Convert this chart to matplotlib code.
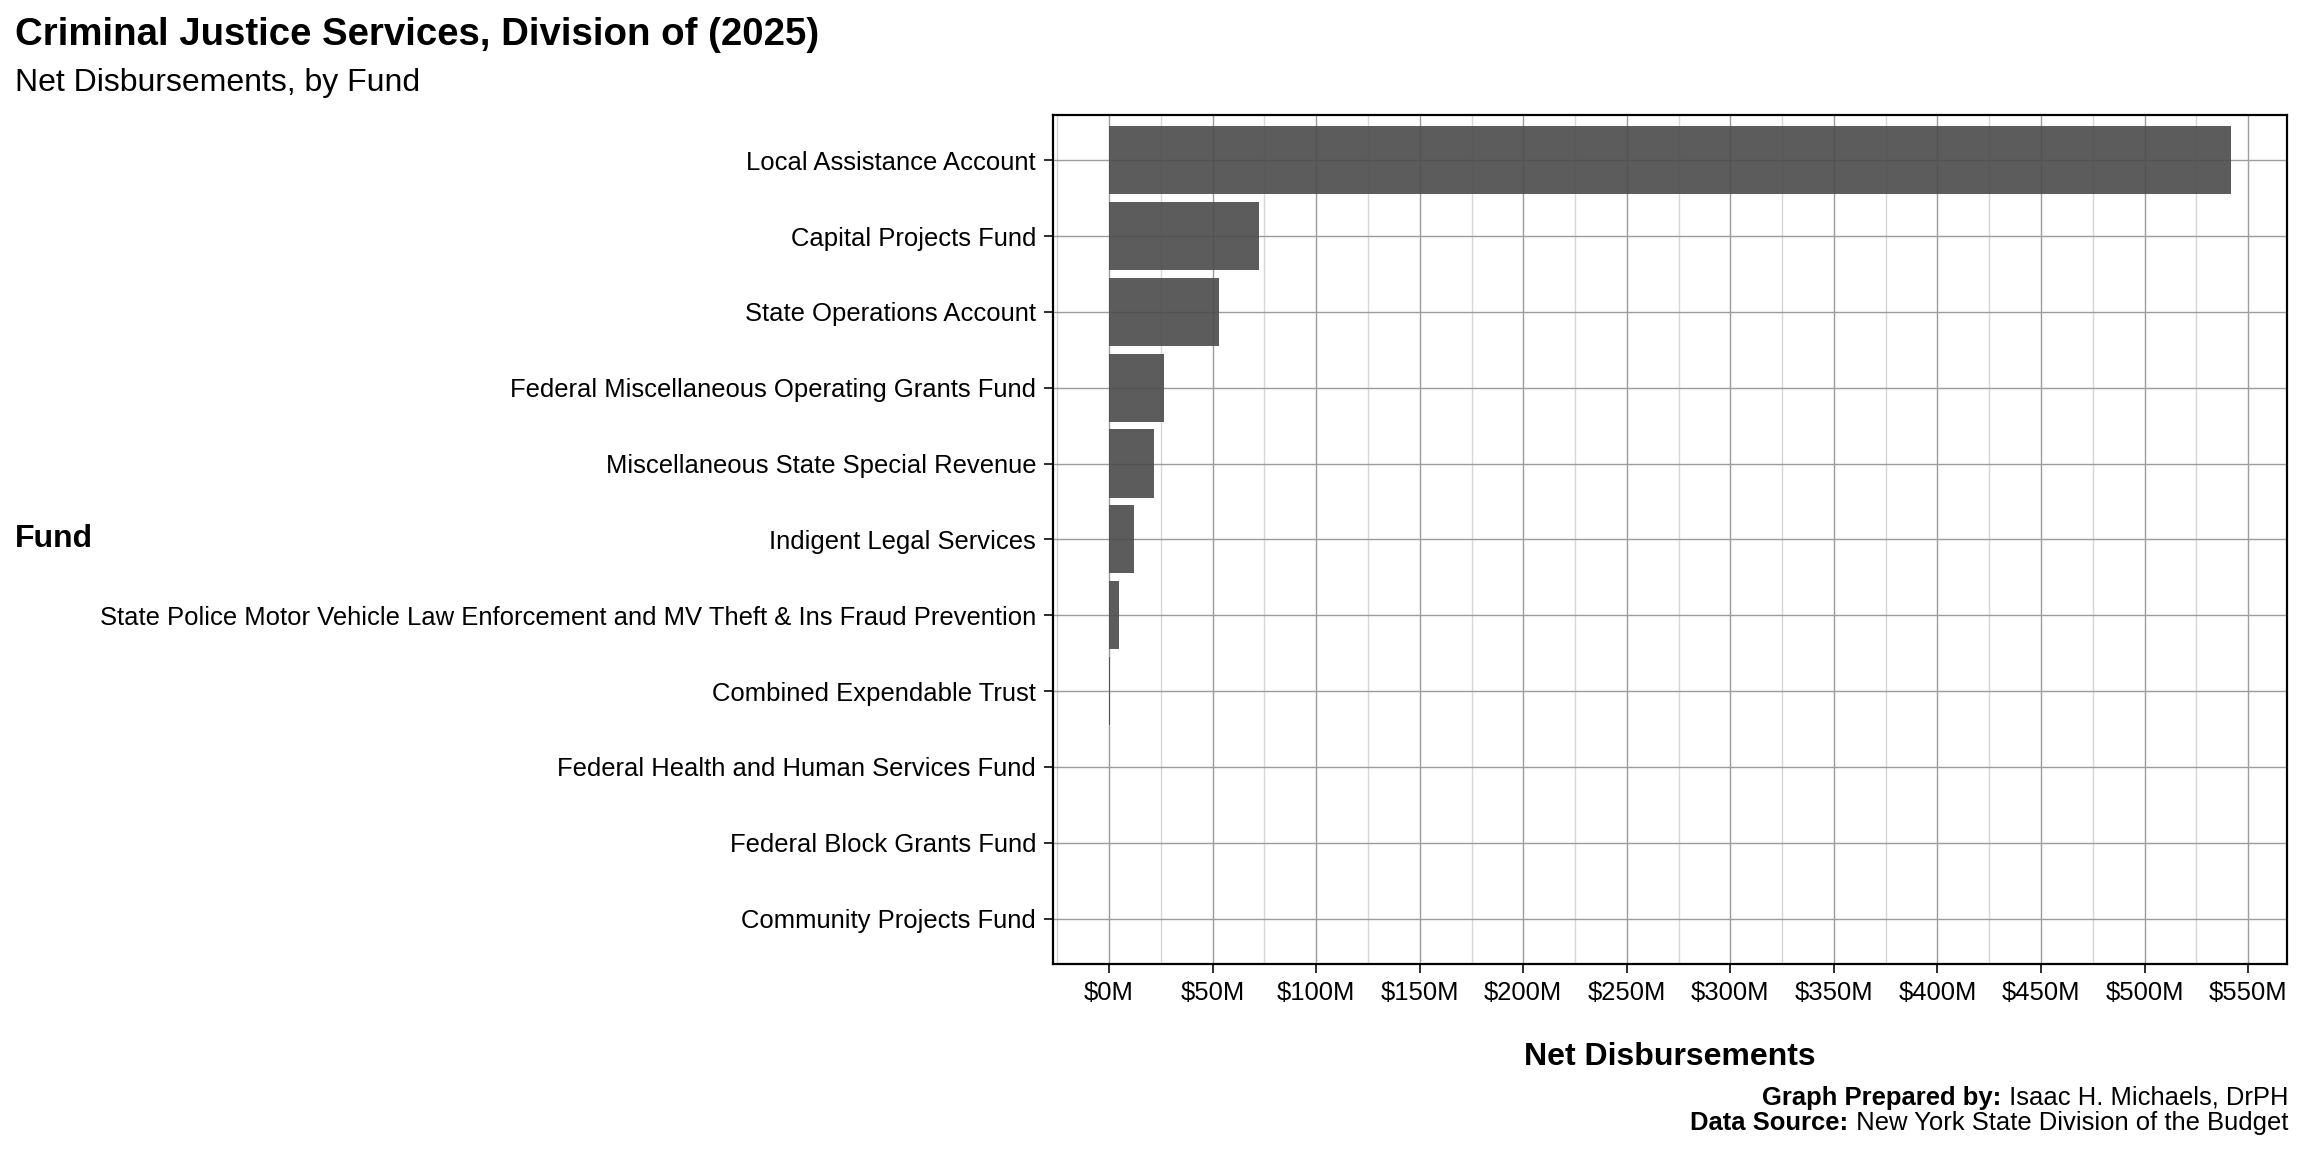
import matplotlib
matplotlib.use("Agg")
import matplotlib.pyplot as plt
from matplotlib.ticker import FuncFormatter, MultipleLocator
import numpy as np

plt.rcParams['font.family'] = ['Liberation Sans', 'DejaVu Sans']

funds = [
    "Local Assistance Account",
    "Capital Projects Fund",
    "State Operations Account",
    "Federal Miscellaneous Operating Grants Fund",
    "Miscellaneous State Special Revenue",
    "Indigent Legal Services",
    "State Police Motor Vehicle Law Enforcement and MV Theft & Ins Fraud Prevention",
    "Combined Expendable Trust",
    "Federal Health and Human Services Fund",
    "Federal Block Grants Fund",
    "Community Projects Fund",
]
# Net disbursements, millions of dollars
net_disb_m = [541.7, 72.6, 53.3, 26.3, 21.5, 12.2, 4.6, 0.5, 0.0, 0.0, 0.0]

title = "Criminal Justice Services, Division of (2025)"
subtitle = "Net Disbursements, by Fund"
x_title = "Net Disbursements"
y_title = "Fund"

W, H = 2304, 1152
fig = plt.figure(figsize=(16, 8), dpi=144)
ax = fig.add_axes([1053 / W, 1 - 964 / H, (2287 - 1053) / W, (964 - 114.7) / H])

ypos = np.arange(len(funds))
ax.barh(ypos, net_disb_m, height=0.9, color="#4e4e4e", alpha=0.92, zorder=3,
        linewidth=0)

vmax = max(net_disb_m)
ax.set_xlim(-0.05 * vmax, 1.05 * vmax)
ax.set_ylim(len(funds) - 1 + 0.6, -0.6)

ax.set_yticks(ypos)
ax.set_yticklabels(funds)
ax.xaxis.set_major_locator(MultipleLocator(50))
ax.xaxis.set_minor_locator(MultipleLocator(25))
ax.xaxis.set_major_formatter(FuncFormatter(lambda v, p: f"${v:.0f}M"))

ax.set_axisbelow(True)
ax.grid(which="major", axis="both", color="#9c9c9c", linewidth=0.7, zorder=1)
ax.grid(which="minor", axis="x", color="#d6d6d6", linewidth=0.7, zorder=1)

ax.tick_params(axis="both", which="major", length=4.5, width=0.8, color="black",
               labelsize=12.8, pad=4, labelcolor="black")
ax.tick_params(axis="x", which="minor", length=0)
for s in ax.spines.values():
    s.set_color("black")
    s.set_linewidth(1.1)
    s.set_zorder(5)

# Titles
fig.text(15 / W, 1 - 45 / H, title, fontsize=19.2, fontweight="bold", ha="left", va="baseline")
fig.text(15 / W, 1 - 91 / H, subtitle, fontsize=16, ha="left", va="baseline")
fig.text(15 / W, 1 - 539 / H, y_title, fontsize=16, fontweight="bold", ha="left", va="center")
fig.text((1053 + 2287) / 2 / W, 1 - 1057 / H, x_title, fontsize=16, fontweight="bold",
         ha="center", va="center")

# Caption (mixed bold / regular, right aligned)
fig.canvas.draw()
renderer = fig.canvas.get_renderer()
cap_x = 2288 / W
for yy, bold, reg in [(1098, "Graph Prepared by:", " Isaac H. Michaels, DrPH"),
                      (1123, "Data Source:", " New York State Division of the Budget")]:
    t = fig.text(cap_x, 1 - yy / H, reg, fontsize=12.8, ha="right", va="center")
    bb = t.get_window_extent(renderer=renderer)
    fig.text(bb.x0 / W, 1 - yy / H, bold, fontsize=12.8, fontweight="bold", ha="right", va="center")

fig.savefig("out.png", dpi=144, facecolor="white")
